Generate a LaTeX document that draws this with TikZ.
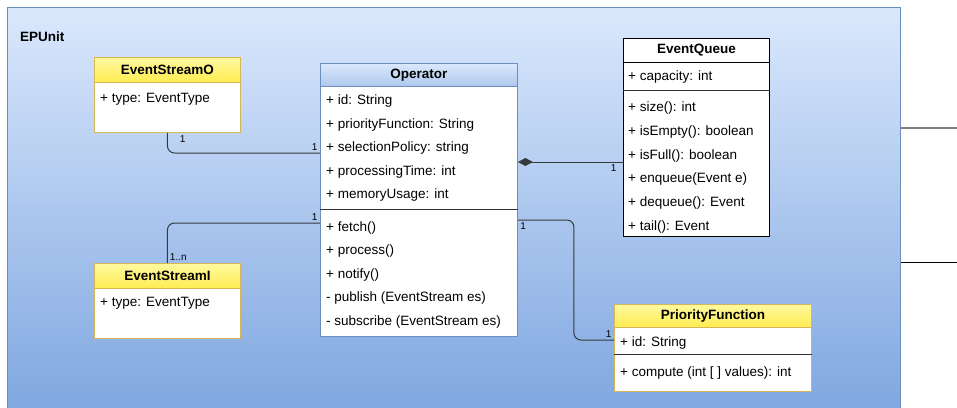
\documentclass[tikz,border=0pt]{standalone}
\usepackage{fontspec}
\setmainfont{Liberation Sans}
\usetikzlibrary{positioning,arrows.meta,calc}
\definecolor{unittop}{HTML}{DAE8FC}
\definecolor{unitbot}{HTML}{7EA6E0}
\definecolor{unitline}{HTML}{6C8EBF}
\definecolor{yeltop}{HTML}{FFF9A0}
\definecolor{yelbot}{HTML}{FFEC50}
\definecolor{yelline}{HTML}{D6B656}
\definecolor{optop}{HTML}{DAE8FC}
\definecolor{opbot}{HTML}{AFC8EE}
\definecolor{connline}{HTML}{36393D}

\begin{document}
\begin{tikzpicture}[
  x=1pt, y=-1pt,
  every node/.style = {font=\fontsize{13.5}{16}\selectfont},
  unitbox/.style = {rectangle, draw=unitline, line width=1pt, top color=unittop,
                    bottom color=unitbot, anchor=north west, inner sep=0pt},
  cls/.style     = {rectangle, fill=white, anchor=north west, inner sep=0pt,
                    line width=0.9pt},
  hdr/.style     = {rectangle, anchor=north, inner sep=0pt, line width=0.9pt,
                    font=\fontsize{13.5}{16}\selectfont\bfseries},
  yhead/.style   = {hdr, draw=yelline, top color=yeltop, bottom color=yelbot},
  bhead/.style   = {hdr, draw=unitline, top color=optop, bottom color=opbot},
  whead/.style   = {hdr, draw=black, fill=white},
  row/.style     = {anchor=west, inner sep=0pt, text height=11pt, text depth=2pt},
  mult/.style    = {font=\fontsize{10}{12}\selectfont, inner sep=2pt},
  conn/.style    = {draw=connline, line width=1pt, rounded corners=7pt},
  sep/.style     = {draw=black!80, line width=0.9pt},
]
\useasboundingbox (0,0) rectangle (957,407);

% container
\node[unitbox, minimum width=893, minimum height=410] (epunit) at (7,7) {};
\node[anchor=west, inner sep=0pt, font=\fontsize{13.5}{16}\selectfont\bfseries]
  (epunitName) at (20,37) {EPUnit};

% EventStreamO
\node[cls, draw=yelline, minimum width=146, minimum height=75] (eso) at (94,57) {};
\node[yhead, minimum width=146, minimum height=25] (esoHead) at (eso.north) {EventStreamO};
\node[row] (esoType) at (100,98) {+ type: EventType};

% EventStreamI
\node[cls, draw=yelline, minimum width=146, minimum height=75] (esi) at (94,263) {};
\node[yhead, minimum width=146, minimum height=25] (esiHead) at (esi.north) {EventStreamI};
\node[row] (esiType) at (100,302) {+ type: EventType};

% Operator
\node[cls, draw=unitline, minimum width=197, minimum height=273] (op) at (320,63) {};
\node[bhead, minimum width=197, minimum height=23] (opHead) at (op.north) {Operator};
\draw[sep] ([yshift=-146]op.north west) -- ([yshift=-146]op.north east);
\node[row] (opId)   at (326,100) {+ id: String};
\node[row] (opPrio) at (326,124) {+ priorityFunction: String};
\node[row] (opSel)  at (326,147) {+ selectionPolicy: string};
\node[row] (opTime) at (326,171) {+ processingTime: int};
\node[row] (opMem)  at (326,194) {+ memoryUsage: int};
\node[row] (opFetch) at (326,227) {+ fetch()};
\node[row] (opProc)  at (326,250) {+ process()};
\node[row] (opNote)  at (326,274) {+ notify()};
\node[row] (opPub)   at (326,297) {- publish (EventStream es)};
\node[row] (opSub)   at (326,321) {- subscribe (EventStream es)};

% EventQueue
\node[cls, draw=black, minimum width=146, minimum height=198] (eq) at (623,38) {};
\node[whead, minimum width=146, minimum height=24] (eqHead) at (eq.north) {EventQueue};
\draw[sep] ([yshift=-52]eq.north west) -- ([yshift=-52]eq.north east);
\node[row] (eqCap)   at (628,76)  {+ capacity: int};
\node[row] (eqSize)  at (628,107) {+ size(): int};
\node[row] (eqEmpty) at (628,131) {+ isEmpty(): boolean};
\node[row] (eqFull)  at (628,155) {+ isFull(): boolean};
\node[row] (eqEnq)   at (628,178) {+ enqueue(Event e)};
\node[row] (eqDeq)   at (628,202) {+ dequeue(): Event};
\node[row] (eqTail)  at (628,226) {+ tail(): Event};

% PriorityFunction
\node[cls, draw=yelline, minimum width=197, minimum height=87] (pf) at (614,304) {};
\node[yhead, minimum width=197, minimum height=23] (pfHead) at (pf.north) {PriorityFunction};
\draw[sep] ([yshift=-50]pf.north west) -- ([yshift=-50]pf.north east);
\node[row] (pfId)   at (620,342) {+ id: String};
\node[row] (pfComp) at (620,372) {+ compute (int [ ] values): int};

% associations
\draw[conn] (eso.south) node[mult, below right, xshift=10pt] {1}
  |- ([yshift=-90]op.north west) node[mult, above left] {1};
\draw[conn] (esi.north) node[mult, above right] {1..n}
  |- ([yshift=-160]op.north west) node[mult, above left] {1};
\draw[conn, {Diamond[length=15pt,width=8pt]}-]
  ([yshift=-99]op.north east) -- ([yshift=-124]eq.north west)
  node[mult, below left, xshift=-4pt] {1};
\draw[conn] ([yshift=-157]op.north east) node[mult, below right] {1}
  -- ++(56,0) |- ([yshift=-36]pf.north west) node[mult, above left] {1};

% links leaving the unit
\coordinate (exitA) at (957,128);
\coordinate (exitB) at (957,262);
\draw[gray, line width=1.5pt] (exitA -| epunit.east) -- (exitA);
\draw[black, line width=1pt] (exitB -| epunit.east) -- (exitB);
\end{tikzpicture}
\end{document}
